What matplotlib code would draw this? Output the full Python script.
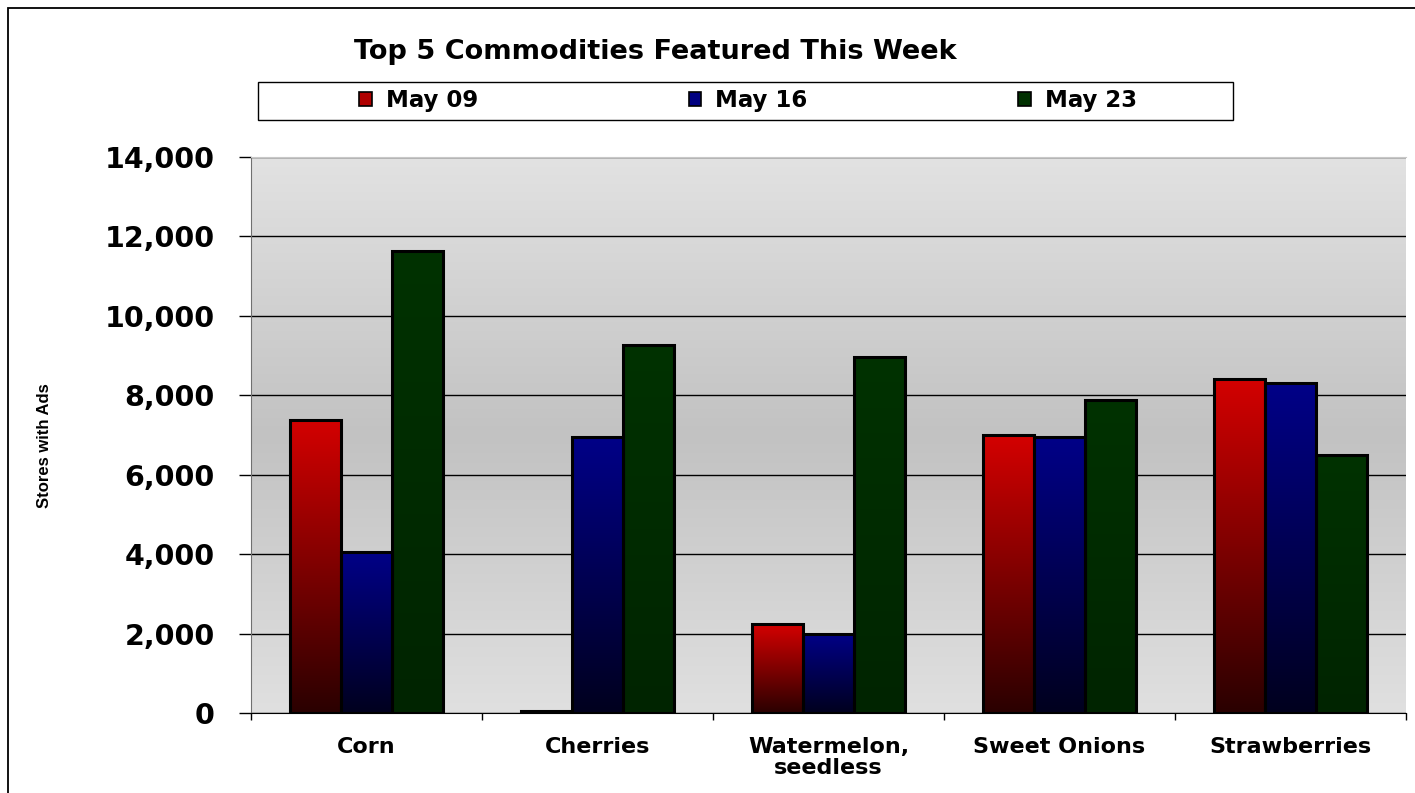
import matplotlib
matplotlib.use("Agg")
import matplotlib.pyplot as plt
import numpy as np
from matplotlib.colors import LinearSegmentedColormap
from matplotlib.patches import Patch, Rectangle
from matplotlib.ticker import FuncFormatter, FixedLocator

# data
categories = ["Corn", "Cherries", "Watermelon,\nseedless", "Sweet Onions", "Strawberries"]
series_names = ["May 09", "May 16", "May 23"]
may09 = [7380, 60, 2240, 7000, 8420]
may16 = [4060, 6960, 1990, 6960, 8310]
may23 = [11640, 9270, 8970, 7880, 6500]
y_ticks = [0, 2000, 4000, 6000, 8000, 10000, 12000, 14000]

# bottom -> top colour of each bar gradient
bar_grads = [("#2a0000", "#d40000"), ("#00001e", "#000088"), ("#002400", "#003200")]
legend_cols = ["#b00000", "#000080", "#003000"]


def thousands(x, pos):
    return f"{int(x):,}"


def main():
    fig = plt.figure(figsize=(14.15, 7.93), dpi=100)
    ax = fig.add_axes([251 / 1415, 1 - 713 / 793, (1406 - 251) / 1415, (713 - 157) / 793])

    # outer chart frame (right and bottom edges run off the canvas)
    fig.patches.append(Rectangle((8 / 1415, -0.05), 1.1, 1.05 - 8 / 793,
                                 transform=fig.transFigure, fill=False,
                                 edgecolor="black", lw=1.3, zorder=0))

    # plot area background: light - darker - light
    bg = LinearSegmentedColormap.from_list(
        "bg", [(0, "#e0e0e0"), (0.5, "#c2c2c2"), (1, "#e2e2e2")])
    ax.imshow(np.linspace(0, 1, 256).reshape(-1, 1), cmap=bg, origin="lower",
              extent=[0, 1, 0, 1], transform=ax.transAxes, aspect="auto", zorder=0)
    ax.set_axisbelow(True)
    ax.yaxis.grid(True, color="black", lw=1.0)

    x = np.arange(len(categories))
    width = 0.22
    grad = np.linspace(0, 1, 256).reshape(-1, 1)
    for i, vals in enumerate([may09, may16, may23]):
        bars = ax.bar(x + (i - 1) * width, vals, width, facecolor="none",
                      edgecolor="black", lw=2.2, zorder=3)
        cmap = LinearSegmentedColormap.from_list(f"g{i}", bar_grads[i])
        for rect in bars:
            x0, y0 = rect.get_xy()
            im = ax.imshow(grad, cmap=cmap, origin="lower", aspect="auto",
                           extent=[x0, x0 + rect.get_width(), y0, y0 + rect.get_height()],
                           zorder=2.5)
            im.set_clip_path(rect)

    ax.set_xlim(-0.5, len(categories) - 0.5)
    ax.set_ylim(0, 14000)

    ax.set_yticks(y_ticks)
    ax.yaxis.set_major_formatter(FuncFormatter(thousands))
    ax.tick_params(axis="y", length=9, width=1, pad=17, labelsize=20.5)

    # category boundaries as major ticks, labels on minor ticks
    ax.xaxis.set_major_locator(FixedLocator(np.arange(-0.5, len(categories), 1.0)))
    ax.xaxis.set_minor_locator(FixedLocator(x))
    ax.set_xticklabels([""] * (len(categories) + 1))
    ax.set_xticklabels(categories, minor=True, linespacing=1.1)
    ax.tick_params(axis="x", which="major", length=5, width=1, direction="out")
    ax.tick_params(axis="x", which="minor", length=0, pad=17, labelsize=16)

    for lab in ax.get_yticklabels() + ax.get_xticklabels(minor=True):
        lab.set_fontweight("bold")
        lab.set_family("DejaVu Sans")

    ax.spines["top"].set_color("#c8c8c8")
    ax.spines["right"].set_visible(False)
    ax.spines["left"].set_color("#707070")
    ax.spines["bottom"].set_color("black")

    ax.set_ylabel("Stores with Ads", family=["Liberation Sans Narrow", "Liberation Sans"],
                  fontsize=12, fontweight="bold", labelpad=0)
    ax.yaxis.set_label_coords(-0.172, 0.48)

    fig.text(655 / 1415, 1 - 52 / 793, "Top 5 Commodities Featured This Week",
             ha="center", va="center", fontsize=19.5, fontweight="bold",
             family="DejaVu Sans")

    # legend box
    fig.patches.append(Rectangle((258 / 1415, 1 - 120 / 793), 975 / 1415, 38 / 793,
                                 transform=fig.transFigure, fill=False,
                                 edgecolor="black", lw=1.0))
    handles = [Patch(facecolor=c, edgecolor="black", lw=1.2) for c in legend_cols]
    fig.legend(handles, series_names, loc="center", ncol=3, frameon=False,
               bbox_to_anchor=(748 / 1415, 1 - 101 / 793),
               prop={"family": "DejaVu Sans", "weight": "bold", "size": 16.5},
               handlelength=0.55, handleheight=0.55, handletextpad=0.6,
               columnspacing=9.2)

    fig.savefig("out.png", dpi=100)


if __name__ == "__main__":
    main()
